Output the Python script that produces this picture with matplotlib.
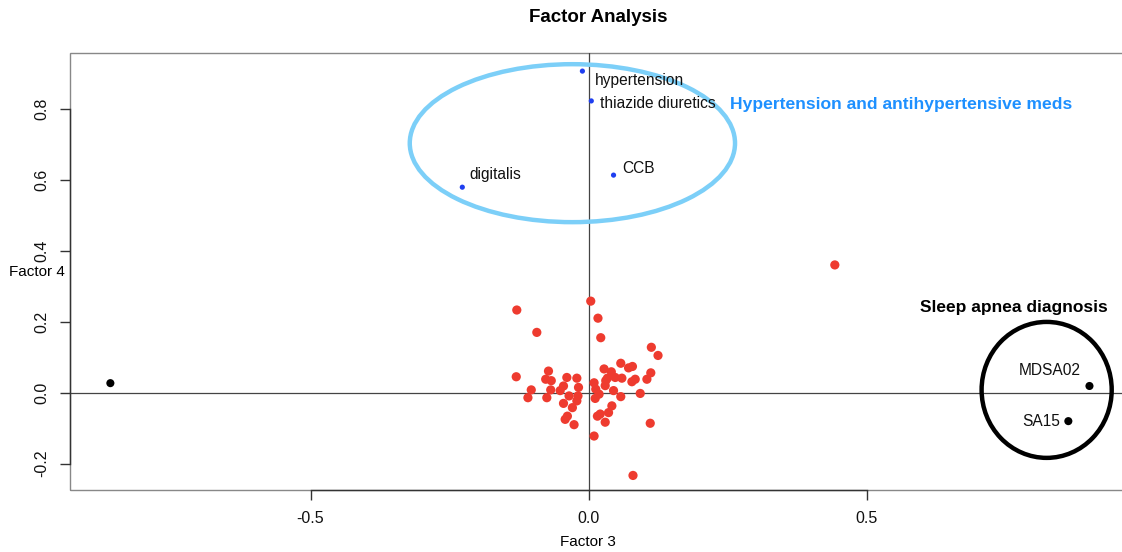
import matplotlib
matplotlib.use("Agg")
import matplotlib.pyplot as plt
from matplotlib.patches import Ellipse, Rectangle

plt.rcParams['font.family'] = ['Liberation Sans', 'DejaVu Sans']

# other variables (red)
other_x = [0.004, -0.129, 0.017, -0.093, 0.022, 0.113, 0.125, 0.058, 0.079, 0.072,
           0.028, -0.072, 0.041, 0.112, -0.130, -0.039, -0.021, 0.034, 0.048, 0.060,
           -0.077, -0.067, 0.084, 0.078, 0.105, 0.031, 0.010, 0.030, -0.045, -0.018,
           -0.103, -0.068, -0.051, 0.013, 0.045, 0.093, -0.035, -0.019, 0.019, 0.058,
           -0.109, -0.075, 0.012, -0.021, -0.045, 0.042, -0.029, 0.036, 0.021, 0.016,
           -0.038, -0.042, 0.030, 0.111, -0.026, 0.010, 0.080, 0.443]
other_y = [0.258, 0.233, 0.210, 0.170, 0.155, 0.128, 0.105, 0.083, 0.074, 0.070,
           0.067, 0.061, 0.059, 0.056, 0.045, 0.043, 0.041, 0.041, 0.043, 0.041,
           0.038, 0.034, 0.038, 0.031, 0.038, 0.034, 0.028, 0.020, 0.019, 0.015,
           0.008, 0.008, 0.006, 0.010, 0.006, -0.002, -0.009, -0.009, -0.004, -0.011,
           -0.014, -0.014, -0.016, -0.023, -0.030, -0.037, -0.042, -0.056, -0.060, -0.066,
           -0.066, -0.075, -0.083, -0.086, -0.090, -0.122, -0.233, 0.360]

# hypertension group (blue)
bp_names = ["hypertension", "thiazide diuretics", "digitalis", "CCB"]
bp_x = [-0.011, 0.005, -0.227, 0.045]
bp_y = [0.906, 0.822, 0.579, 0.613]

# sleep apnea + outlier (black)
sa_names = ["", "MDSA02", "SA15"]
sa_x = [-0.860, 0.901, 0.863]
sa_y = [0.027, 0.019, -0.080]

fig = plt.figure(figsize=(11.22, 5.52), dpi=100)
ax = fig.add_axes([70 / 1122, 1 - 490 / 552, 1.005 - 70 / 1122, (490 - 53) / 552])
ax.set_xlim(-0.9326, 0.9696)
ax.set_ylim(-0.274, 0.957)

ax.axhline(0, color='#444444', lw=0.9, zorder=1)
ax.axvline(0, color='#444444', lw=0.9, zorder=1)

ax.scatter(other_x, other_y, s=44, color='#EE3B2F', edgecolors='none', zorder=3)
ax.scatter(bp_x, bp_y, s=14, color='#1F3FF0', edgecolors='none', zorder=3)
ax.scatter(sa_x, sa_y, s=34, color='black', edgecolors='none', zorder=3)

bp_offsets = [(9, -6.5), (6.5, -2), (5, 9), (6.5, 5)]
for name, x, y, off in zip(bp_names, bp_x, bp_y, bp_offsets):
    ax.annotate(name, (x, y), xytext=off, textcoords='offset points',
                ha='left', va='center', fontsize=11.2, color='#111111')
sa_offsets = [(0, 0), (-6.5, 11.5), (-6, 0)]
for name, x, y, off in zip(sa_names, sa_x, sa_y, sa_offsets):
    if name:
        ax.annotate(name, (x, y), xytext=off, textcoords='offset points',
                    ha='right', va='center', fontsize=11.2, color='#111111')

ax.add_patch(Ellipse((-0.029, 0.703), 0.585, 0.445, fill=False,
                     edgecolor='#7CCFF8', lw=3.2, zorder=2))
ax.add_patch(Ellipse((0.824, 0.008), 0.234, 0.383, fill=False,
                     edgecolor='black', lw=3.2, zorder=2))

ax.text(0.2545, 0.813, "Hypertension and antihypertensive meds", color='#1E90FF',
        fontsize=12.6, fontweight='bold', ha='left', va='center')
ax.text(0.596, 0.241, "Sleep apnea diagnosis", color='black',
        fontsize=12.5, fontweight='bold', ha='left', va='center')

# box + R style axes
for s in ax.spines.values():
    s.set_visible(False)
ax.add_patch(Rectangle((0, 0), 1, 1, transform=ax.transAxes, fill=False,
                       edgecolor='#888888', lw=1.0, clip_on=False, zorder=0))
ax.spines['left'].set_visible(True)
ax.spines['bottom'].set_visible(True)
ax.spines['left'].set_bounds(-0.2, 0.8)
ax.spines['bottom'].set_bounds(-0.5, 0.5)
for k in ('left', 'bottom'):
    ax.spines[k].set_color('#333333')
    ax.spines[k].set_linewidth(1.0)

ax.set_xticks([-0.5, 0.0, 0.5])
ax.set_xticklabels(["-0.5", "0.0", "0.5"])
ax.set_yticks([-0.2, 0.0, 0.2, 0.4, 0.6, 0.8])
ax.set_yticklabels(["-0.2", "0.0", "0.2", "0.4", "0.6", "0.8"], rotation=90, va='center')
ax.tick_params(direction='out', length=7, width=1.0, color='#333333',
               labelsize=11.5, labelcolor='#111111', pad=8)

fig.text(598 / 1122, 1 - 18 / 552, "Factor Analysis", ha='center', va='center',
         fontsize=13.5, fontweight='bold')
fig.text(588 / 1122, 1 - 542 / 552, "Factor 3", ha='center', va='center', fontsize=11)
fig.text(37 / 1122, 1 - 272 / 552, "Factor 4", ha='center', va='center', fontsize=11)

fig.savefig("out.png", dpi=100)
